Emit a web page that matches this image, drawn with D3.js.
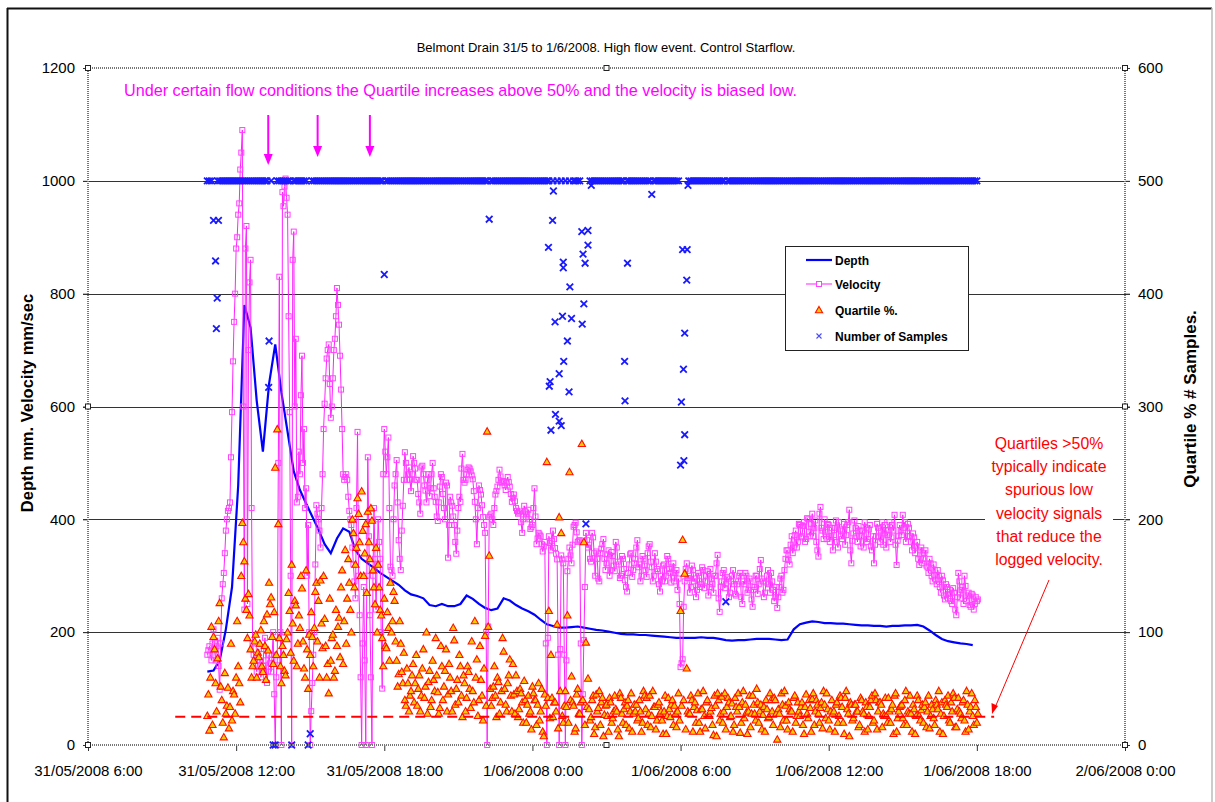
<!DOCTYPE html>
<html>
<head>
<meta charset="utf-8">
<script src="https://cdnjs.cloudflare.com/ajax/libs/d3/7.8.5/d3.min.js"></script>
<style>
body { margin: 0; background: #fff; }
svg { display: block; font-family: Arial, "Liberation Sans", sans-serif; }
</style>
</head>
<body>
<script>
// letture del logger ogni 5 minuti a partire dal 31/05/2008 10:50
var startTime = Date.UTC(2008, 4, 31, 10, 50);
var stepMin = 5;

// velocita' (asse sinistro, mm/sec)
var velocity = [
160,175,150,205,150,190,98,260,305,380,415,430,590,750,880,940,1020,1090,240,920,700,860,180,150,130,
170,120,140,190,110,160,130,200,0,150,830,0,955,1004,940,590,0,910,720,440,480,690,560,455,390,
0,110,200,425,400,350,480,605,685,710,580,650,720,810,745,630,480,475,470,415,390,320,260,555,230,
0,280,0,510,230,0,420,240,400,330,100,560,480,545,316,300,460,505,363,310,424,519,470,492,450,
512,490,470,430,492,480,451,470,441,480,455,431,397,458,475,420,465,332,440,424,390,339,420,431,516,
465,480,492,485,471,431,356,460,444,404,376,0,404,410,390,444,458,488,465,468,452,475,458,431,444,
420,410,414,376,424,404,417,383,390,455,356,376,370,343,360,0,370,345,380,349,329,0,336,322,0,
308,350,322,387,394,360,363,0,186,376,350,330,376,340,343,295,340,356,330,322,345,310,335,308,350,
320,300,330,292,272,320,340,310,330,363,320,300,330,310,340,356,315,300,325,308,272,290,320,300,330,
305,316,290,310,295,138,152,290,322,300,280,310,295,275,300,285,310,290,308,280,295,270,300,337,236,
290,310,285,295,270,300,285,265,290,305,250,285,300,275,290,245,280,300,285,328,290,270,300,285,305,
275,262,243,280,300,275,330,345,320,370,350,380,360,390,370,395,365,400,370,410,385,360,334,422,380,
400,365,390,370,345,385,360,395,370,380,355,390,417,322,375,385,360,380,370,350,385,365,390,345,322,
370,385,360,395,375,350,380,360,390,408,319,370,380,408,395,370,385,360,375,340,360,319,350,330,345,
315,330,300,320,293,310,280,300,265,285,260,275,250,270,230,305,260,280,300,255,270,245,265,250,255
];
// letture intermedie, 2.5 minuti dopo ciascuna lettura sopra
var velocityMid = [
168,160,180,170,175,140,180,285,340,400,420,510,680,800,900,960,1050,600,880,250,820,420,160,140,150,
150,130,170,150,130,145,160,90,120,500,200,980,990,970,760,300,860,600,430,520,620,500,420,300,200,
60,160,320,410,380,420,560,650,700,640,600,700,760,780,690,560,470,480,440,400,350,290,420,300,120,
180,150,300,370,120,300,330,320,360,200,480,520,510,420,310,400,480,430,330,380,470,500,480,470,480,
500,470,445,410,495,460,430,480,455,500,440,405,430,480,445,400,460,390,430,405,360,380,440,490,470,
470,488,490,478,450,400,420,452,425,390,200,210,407,400,420,450,470,476,466,460,465,466,445,438,432,
415,412,395,400,414,410,400,386,420,405,366,373,356,352,180,190,358,362,365,339,160,170,329,160,150,
330,336,355,390,377,362,180,90,280,363,355,325,368,300,330,290,348,365,310,338,300,342,318,360,325,
296,335,312,280,305,338,298,322,350,315,290,335,318,298,352,325,290,340,312,285,300,318,290,335,312,
288,322,305,275,250,145,245,312,296,270,318,290,262,305,280,315,278,300,265,312,285,300,322,260,280,
305,278,298,262,290,310,268,285,300,262,290,305,270,295,258,275,300,268,312,295,262,288,310,270,290,
255,280,262,295,270,310,345,328,355,340,372,350,392,368,388,360,402,378,392,370,398,345,410,385,365,
378,392,360,385,372,398,350,382,365,392,372,395,345,362,398,370,388,352,380,395,360,382,352,370,355,
392,368,380,355,390,372,395,368,380,355,362,390,372,385,360,392,370,345,368,352,330,345,322,340,318,
305,322,290,310,285,300,270,292,258,280,268,255,278,240,262,290,275,250,282,265,248,268,240,262,258
];

// quartile % (asse destro)
var quartile = [
26,13,105,96,55,77,126,40,7,28,51,34,22,45,60,70,38,197,163,120,134,85,70,92,60,
78,102,65,88,116,144,131,72,246,280,95,55,80,62,100,119,160,75,124,90,104,139,68,155,50,
80,96,104,144,128,146,86,112,60,46,75,98,66,88,113,140,72,173,130,144,100,188,160,219,180,
225,150,196,207,165,199,140,175,160,120,95,130,86,104,144,110,128,75,63,90,55,40,68,30,48,
72,55,35,62,44,85,52,28,66,40,58,95,47,33,70,52,85,45,60,30,93,50,38,70,25,
55,42,65,33,48,110,76,40,58,22,97,278,168,35,52,44,60,28,48,83,36,55,76,30,45,
62,25,50,38,57,20,44,30,52,40,18,55,30,12,45,251,119,80,25,38,107,202,188,20,48,
115,242,61,35,15,50,28,267,180,91,59,22,40,10,45,33,18,42,27,36,12,38,24,44,30,
8,42,20,38,35,15,46,28,30,22,40,12,48,32,18,44,26,34,14,36,28,22,30,10,42,
25,40,35,16,46,119,182,152,68,28,44,12,38,31,20,32,48,15,40,26,33,9,35,46,22,
43,30,14,42,25,37,18,34,46,11,38,24,29,30,16,44,28,50,20,36,27,12,32,25,40,
18,40,5,28,46,22,35,14,32,30,42,20,38,26,38,10,45,24,33,41,18,40,28,33,15,
36,46,22,30,28,12,38,26,42,20,42,32,8,36,24,36,30,18,40,28,38,14,34,44,22,
40,30,38,16,26,26,42,20,36,44,12,30,35,24,40,18,28,28,36,10,44,26,31,20,38,
30,15,36,24,40,32,12,38,26,36,44,20,30,42,16,42,28,38,22,48,14,34,26,40,20
];
var quartileMid = [
45,60,18,85,30,110,52,20,64,35,15,90,48,28,110,55,150,180,130,95,115,60,75,98,82,
90,70,110,58,84,125,96,118,80,196,70,88,66,94,135,82,108,128,70,115,150,92,60,85,98,
118,70,136,92,60,108,150,88,72,130,95,60,120,105,78,155,110,90,165,120,200,140,175,205,150,
190,170,135,180,210,155,125,100,140,115,70,88,118,75,100,136,92,52,110,65,82,35,55,44,62,
38,80,50,30,68,42,100,56,34,75,48,62,28,88,40,66,30,72,48,104,36,58,80,44,62,
30,70,50,92,38,60,26,88,44,68,35,105,50,42,70,25,56,38,95,50,30,62,44,72,28,
48,32,46,20,40,36,28,14,46,40,36,22,50,8,35,42,24,42,38,30,15,48,26,35,34,
20,40,38,12,45,28,38,40,18,34,32,25,44,16,30,48,38,8,35,26,42,20,30,32,14,
46,28,32,18,40,30,12,36,36,24,30,20,44,42,28,16,48,34,22,38,30,10,44,26,32,
36,18,28,30,22,35,40,14,30,28,40,34,20,46,12,32,26,38,26,30,18,44,8,40,28,
20,46,34,38,26,12,42,30,34,20,48,36,10,44,28,36,22,38,30,14,34,40,24,46,30,
42,28,32,16,36,48,22,38,30,12,44,26,30,34,18,34,28,40,12,46,30,36,20,38,48,
24,32,14,40,30,36,20,44,34,10,48,28,38,22,36,30,16,42,30,12,34,26,40,20,46,
14,38,36,28,42,20,30,32,10,46,24,34,36,18,48,30,44,12,32,26,40,22,36,34,16,
44,26,32,18,36,48,28,10,40,34,22,38,46,16,32,30,24,40,12,36,30,46,18,34,28
];

// numero di campioni (asse destro)
var samples = [
500,500,500,465,429,500,500,500,500,500,500,500,500,500,500,500,500,500,500,500,500,500,500,500,500,
500,500,500,500,500,358,500,0,0,500,500,500,500,500,500,500,0,500,500,500,500,500,500,500,0,
10,500,500,500,500,500,500,500,500,500,500,500,500,500,500,500,500,500,500,500,500,500,500,500,500,
500,500,500,500,500,500,500,500,500,500,500,417,500,500,500,500,500,500,500,500,500,500,500,500,500,
500,500,500,500,500,500,500,500,500,500,500,500,500,500,500,500,500,500,500,500,500,500,500,500,500,
500,500,500,500,500,500,500,500,500,500,500,500,466,500,500,500,500,500,500,500,500,500,500,500,500,
500,500,500,500,500,500,500,500,500,500,500,500,500,500,500,500,500,279,500,375,500,329,500,423,500,
358,500,378,500,500,500,500,455,391,196,443,500,500,500,500,500,500,500,500,500,500,500,500,500,500,
500,500,500,305,500,500,500,500,500,500,500,500,500,500,500,500,488,500,500,500,500,500,500,500,500,
500,500,500,500,500,248,439,365,412,500,500,500,500,500,500,500,500,500,500,500,500,500,500,500,500,
500,500,127,500,500,500,500,500,500,500,500,500,500,500,500,500,500,500,500,500,500,500,500,500,500,
500,500,500,500,500,500,500,500,500,500,500,500,500,500,500,500,500,500,500,500,500,500,500,500,500,
500,500,500,500,500,500,500,500,500,500,500,500,500,500,500,500,500,500,500,500,500,500,500,500,500,
500,500,500,500,500,500,500,500,500,500,500,500,500,500,500,500,500,500,500,500,500,500,500,500,500,
500,500,500,500,500,500,500,500,500,500,500,500,500,500,500,500,500,500,500,500,500,500,500,500,500
];
// campioni registrati tra una lettura e l'altra (minuti dall'inizio)
var sampleExtraMin = [22,24,27,149,829,831,833,839,841,846,855,860,863,865,866,879,881,911,913,918,925,933,1014,1021,1152,1157,1158,1160,1166,1168];
var sampleExtraVal = [369,396,465,317,441,318,322,465,491,293,287,283,380,428,340,313,406,373,435,427,456,496,340,427,304,333,252,275,439,496];

// profondita' ogni 15 minuti (asse sinistro, mm)
var depthStepMin = 15;
var depth = [
130,132,150,205,280,460,780,740,610,520,640,710,625,555,485,452,428,405,382,356,340,366,384,378,345,
330,322,314,305,298,291,284,274,267,264,260,248,246,250,246,246,250,265,259,250,243,239,242,260,256,
248,242,237,231,222,214,211,208,208,209,210,208,206,204,203,201,199,197,196,196,195,195,194,193,192,
191,190,190,190,190,191,190,190,188,186,185,186,186,187,188,188,188,187,186,187,205,214,217,219,218,
216,216,215,215,214,213,212,212,211,211,210,211,211,212,212,213,210,203,195,188,184,182,180,179,177
];

var leftTicks = [0, 200, 400, 600, 800, 1000, 1200];
var rightTicks = [0, 100, 200, 300, 400, 500, 600];
var xStart = Date.UTC(2008, 4, 31, 6, 0);
var xEnd = Date.UTC(2008, 5, 2, 0, 0);
var seriesNames = ["Depth", "Velocity", "Quartile %.", "Number of Samples"];

var title = "Belmont Drain 31/5 to 1/6/2008. High flow event. Control Starflow.";
var leftTitle = "Depth mm. Velocity mm/sec";
var rightTitle = "Quartile % # Samples.";
var noteTop = "Under certain flow conditions the Quartile increases above 50% and the velocity is biased low.";
var noteRight = ["Quartiles >50%", "typically indicate", "spurious low", "velocity signals", "that reduce the", "logged velocity."];
// frecce magenta (ora del 31/05)
var arrowTimes = [Date.UTC(2008, 4, 31, 13, 18), Date.UTC(2008, 4, 31, 15, 18), Date.UTC(2008, 4, 31, 17, 25)];
var arrowTips = [165, 157, 157];
// linea tratteggiata al 25% (asse destro)
var limitValue = 25;
var limitFrom = Date.UTC(2008, 4, 31, 9, 32);
var limitTo = Date.UTC(2008, 5, 1, 18, 42);

var W = 1215, H = 802;
var plot = {left: 88, right: 1125, top: 68, bottom: 745};
var font = "Arial, 'Liberation Sans', sans-serif";

var svg = d3.select("body").append("svg")
    .attr("width", W)
    .attr("height", H);

// bordo del grafico
svg.append("rect").attr("x", 0).attr("y", 0).attr("width", W).attr("height", H).attr("fill", "#fff");
svg.append("line").attr("x1", 7.5).attr("y1", 8).attr("x2", 7.5).attr("y2", H).attr("stroke", "#111").attr("stroke-width", 2);
svg.append("line").attr("x1", 7).attr("y1", 8.5).attr("x2", 1212).attr("y2", 8.5).attr("stroke", "#111").attr("stroke-width", 2);
svg.append("line").attr("x1", 1212).attr("y1", 8).attr("x2", 1212).attr("y2", H).attr("stroke", "#bbb").attr("stroke-width", 1.5);

var x = d3.scaleUtc().domain([xStart, xEnd]).range([plot.left, plot.right]);
var yL = d3.scaleLinear().domain([0, 1200]).range([plot.bottom, plot.top]);
var yR = d3.scaleLinear().domain([0, 600]).range([plot.bottom, plot.top]);

var halfStep = stepMin * 60000 / 2;
function t(i) { return startTime + i * stepMin * 60000; }

// unisco letture e letture intermedie in ordine di tempo
var velSeries = [], quartSeries = [];
velocity.forEach(function(v, i){
    velSeries.push([t(i), v]);
    velSeries.push([t(i) + halfStep, velocityMid[i]]);
});
quartile.forEach(function(q, i){
    quartSeries.push([t(i), q]);
    quartSeries.push([t(i) + halfStep, quartileMid[i]]);
});

// griglia
svg.append("g").selectAll("line")
    .data(leftTicks.filter(function(d){ return d > 0 && d < 1200; }))
    .join("line")
    .attr("x1", plot.left - 5).attr("x2", plot.right + 5)
    .attr("y1", function(d){ return Math.round(yL(d)) + 0.5; })
    .attr("y2", function(d){ return Math.round(yL(d)) + 0.5; })
    .attr("stroke", "#333").attr("stroke-width", 1);

// assi
var fmt = d3.utcFormat("%-d/%m/%Y %-H:%M");
var xAxis = d3.axisBottom(x).ticks(d3.utcHour.every(6)).tickFormat(fmt).tickSize(6).tickPadding(14);
var gx = svg.append("g").attr("transform", "translate(0," + plot.bottom + ")").call(xAxis);
gx.select(".domain").remove();
gx.selectAll("text").attr("font-size", 15).attr("fill", "#000").attr("font-family", font);
gx.selectAll("line").attr("stroke", "#333");

var gl = svg.append("g").attr("transform", "translate(" + plot.left + ",0)")
    .call(d3.axisLeft(yL).tickValues(leftTicks).tickFormat(d3.format("d")).tickSize(5).tickPadding(8));
gl.select(".domain").remove();
gl.selectAll("text").attr("font-size", 15).attr("fill", "#000").attr("font-family", font);
gl.selectAll("line").attr("stroke", "#333");

var gr = svg.append("g").attr("transform", "translate(" + plot.right + ",0)")
    .call(d3.axisRight(yR).tickValues(rightTicks).tickFormat(d3.format("d")).tickSize(5).tickPadding(8));
gr.select(".domain").remove();
gr.selectAll("text").attr("font-size", 15).attr("fill", "#000").attr("font-family", font);
gr.selectAll("line").attr("stroke", "#333");

// profondita'
var depthLine = d3.line()
    .x(function(d, i){ return x(startTime + i * depthStepMin * 60000); })
    .y(function(d){ return yL(d); });
svg.append("path").datum(depth)
    .attr("d", depthLine)
    .attr("fill", "none").attr("stroke", "#0000ff").attr("stroke-width", 2.2);

// velocita'
var velLine = d3.line()
    .x(function(d){ return x(d[0]); })
    .y(function(d){ return yL(d[1]); });
svg.append("path").datum(velSeries)
    .attr("d", velLine)
    .attr("fill", "none").attr("stroke", "#ff22ff").attr("stroke-width", 1);
svg.append("g").selectAll("rect")
    .data(velSeries)
    .join("rect")
    .attr("x", function(d){ return x(d[0]) - 2.5; })
    .attr("y", function(d){ return yL(d[1]) - 2.5; })
    .attr("width", 5).attr("height", 5)
    .attr("fill", "none").attr("stroke", "#ff44ff").attr("stroke-width", 1);

// quartile
var tri = "M0,-3.6L3.6,2.8L-3.6,2.8Z";
svg.append("g").selectAll("path")
    .data(quartSeries)
    .join("path")
    .attr("d", tri)
    .attr("transform", function(d){ return "translate(" + x(d[0]) + "," + yR(d[1]) + ")"; })
    .attr("fill", "#ffcc00").attr("stroke", "#ff1000").attr("stroke-width", 1.1);

// numero di campioni
var cross = "M-3.3,-3.3L3.3,3.3M-3.3,3.3L3.3,-3.3";
var sampleTimes = samples.map(function(d, i){ return t(i); })
    .concat(sampleExtraMin.map(function(m){ return startTime + m * 60000; }));
var sampleVals = samples.concat(sampleExtraVal);
svg.append("g").selectAll("path")
    .data(sampleVals)
    .join("path")
    .attr("d", cross)
    .attr("transform", function(d, i){ return "translate(" + x(sampleTimes[i]) + "," + yR(d) + ")"; })
    .attr("fill", "none").attr("stroke", "#1a1aff").attr("stroke-width", 1.8);

// linea tratteggiata rossa
svg.append("line")
    .attr("x1", x(limitFrom)).attr("x2", x(limitTo))
    .attr("y1", yR(limitValue)).attr("y2", yR(limitValue))
    .attr("stroke", "#ff0000").attr("stroke-width", 2).attr("stroke-dasharray", "10,6");

// bordo tratteggiato dell'area del grafico
svg.append("rect")
    .attr("x", plot.left).attr("y", plot.top)
    .attr("width", plot.right - plot.left).attr("height", plot.bottom - plot.top)
    .attr("fill", "none").attr("stroke", "#777").attr("stroke-width", 2).attr("stroke-dasharray", "1,1");
var handles = [[plot.left, plot.top], [(plot.left + plot.right) / 2, plot.top], [plot.right, plot.top],
               [plot.left, (plot.top + plot.bottom) / 2], [plot.right, (plot.top + plot.bottom) / 2],
               [plot.left, plot.bottom], [(plot.left + plot.right) / 2, plot.bottom], [plot.right, plot.bottom]];
svg.append("g").selectAll("rect").data(handles).join("rect")
    .attr("x", function(d){ return d[0] - 2.5; }).attr("y", function(d){ return d[1] - 2.5; })
    .attr("width", 5).attr("height", 5)
    .attr("fill", "#fff").attr("stroke", "#222").attr("stroke-width", 1);

// titoli
svg.append("text").attr("x", 606).attr("y", 52).attr("text-anchor", "middle")
    .attr("font-size", 13).text(title);
svg.append("text").attr("transform", "translate(33,403) rotate(-90)").attr("text-anchor", "middle")
    .attr("font-size", 16.5).attr("font-weight", "bold").text(leftTitle);
svg.append("text").attr("transform", "translate(1196,399) rotate(-90)").attr("text-anchor", "middle")
    .attr("font-size", 17).attr("font-weight", "bold").text(rightTitle);

// note magenta e frecce
svg.append("text").attr("x", 124).attr("y", 96).attr("font-size", 16.2)
    .attr("fill", "#ff00ff").text(noteTop);
arrowTimes.forEach(function(a, i){
    var ax = x(a);
    svg.append("line").attr("x1", ax).attr("x2", ax).attr("y1", 115).attr("y2", arrowTips[i] - 10)
        .attr("stroke", "#ff00ff").attr("stroke-width", 2);
    svg.append("path")
        .attr("d", "M" + (ax - 4.5) + "," + (arrowTips[i] - 11) + "L" + (ax + 4.5) + "," + (arrowTips[i] - 11) + "L" + ax + "," + arrowTips[i] + "Z")
        .attr("fill", "#ff00ff");
});

// nota rossa
svg.append("rect").attr("x", 985).attr("y", 428).attr("width", 128).attr("height", 140).attr("fill", "#fff");
svg.append("g").selectAll("text").data(noteRight).join("text")
    .attr("x", 1049).attr("y", function(d, i){ return 449 + i * 23.2; })
    .attr("text-anchor", "middle").attr("font-size", 15.8).attr("fill", "#ff0000")
    .text(function(d){ return d; });
svg.append("line").attr("x1", 1049).attr("y1", 580).attr("x2", 994).attr("y2", 710)
    .attr("stroke", "#ff0000").attr("stroke-width", 1);
svg.append("path").attr("d", "M992,714L991.5,703L998,706Z").attr("fill", "#ff0000");

// legenda
var lg = svg.append("g").attr("transform", "translate(785,246)");
lg.append("rect").attr("x", 0.5).attr("y", 0.5).attr("width", 183).attr("height", 104)
    .attr("fill", "#fff").attr("stroke", "#222").attr("stroke-width", 1);
var rowY = [14, 38, 64, 90];
lg.selectAll("text").data(seriesNames).join("text")
    .attr("x", 50).attr("y", function(d, i){ return rowY[i] + 4.5; })
    .attr("font-size", 12).attr("font-weight", "bold").text(function(d){ return d; });
lg.append("line").attr("x1", 21).attr("x2", 47).attr("y1", rowY[0]).attr("y2", rowY[0])
    .attr("stroke", "#0000ff").attr("stroke-width", 2.2);
lg.append("line").attr("x1", 21).attr("x2", 47).attr("y1", rowY[1]).attr("y2", rowY[1])
    .attr("stroke", "#ff22ff").attr("stroke-width", 1);
lg.append("rect").attr("x", 31.5).attr("y", rowY[1] - 2.5).attr("width", 5).attr("height", 5)
    .attr("fill", "#fff").attr("stroke", "#ff44ff");
lg.append("path").attr("d", tri).attr("transform", "translate(34," + rowY[2] + ")")
    .attr("fill", "#ffcc00").attr("stroke", "#ff1000").attr("stroke-width", 1.1);
lg.append("path").attr("d", "M-2.5,-2.5L2.5,2.5M-2.5,2.5L2.5,-2.5").attr("transform", "translate(34," + rowY[3] + ")")
    .attr("fill", "none").attr("stroke", "#4a4aff").attr("stroke-width", 1.1);
</script>
</body>
</html>
